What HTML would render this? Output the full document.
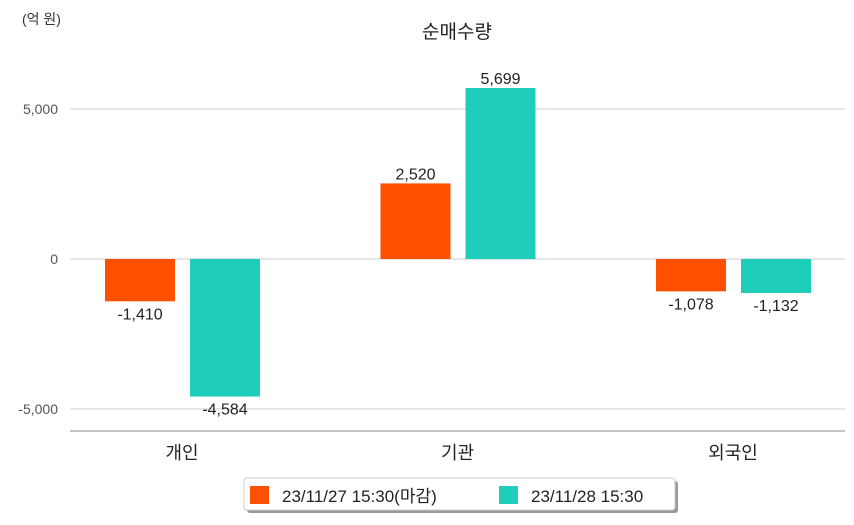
<!DOCTYPE html>
<html><head><meta charset="utf-8"><style>
body{margin:0;background:#fff;font-family:"Liberation Sans","Noto Sans CJK KR",sans-serif;}
svg text{font-family:"Liberation Sans","Noto Sans CJK KR",sans-serif;}
</style></head><body>
<svg id="c" width="854" height="520" xmlns="http://www.w3.org/2000/svg">
<text x="22" y="24" font-size="14" fill="#333">(억 원)</text>
<text x="457" y="38" font-size="19" text-anchor="middle" fill="#222">순매수량</text>
<g id="grid"></g><g id="bars"></g>
<line x1="70" y1="431" x2="845" y2="431" stroke="#888"/>
<g>
<rect x="247" y="481" width="431" height="32" fill="#999" rx="3"/>
<rect x="244" y="478" width="431" height="32" fill="#fff" stroke="#ccc" rx="3"/>
<rect x="250" y="486" width="19" height="18" fill="#ff5000"/>
<text x="282" y="502" font-size="17" fill="#222">23/11/27 15:30(마감)</text>
<rect x="499" y="486" width="19" height="18" fill="#1ecdba"/>
<text x="531" y="502" font-size="17" fill="#222">23/11/28 15:30</text>
</g>
</svg>
<script>
const categories=["개인","기관","외국인"];
const series1=[-1410,2520,-1078];
const series2=[-4584,5699,-1132];
const ticks=[5000,0,-5000];
const tickLabels=["5,000","0","-5,000"];
const ns="http://www.w3.org/2000/svg";
const y=v=>259-v*0.03;
const cx=i=>182+i*275.5;
const g=document.getElementById('grid'),b=document.getElementById('bars');
function mk(t,a,p){const e=document.createElementNS(ns,t);for(const k in a)e.setAttribute(k,a[k]);p.appendChild(e);return e;}
ticks.forEach((t,i)=>{
 const l=mk('line',{x1:70,x2:845,y1:y(t),y2:y(t),stroke:'#ccc'},g);
 
 
 const tx=mk('text',{x:58,y:y(t)+5,'font-size':14,'text-anchor':'end',fill:'#555'},g);tx.textContent=tickLabels[i];
 
 
});
const fmt=v=>v.toLocaleString('en-US');
categories.forEach((c,i)=>{
 [[series1,'#ff5000',-77],[series2,'#1ecdba',8]].forEach(([s,col,off],j)=>{
  const v=s[i],x=cx(i)+off,top=Math.min(y(v),y(0)),h=Math.abs(y(v)-y(0));
  const r=mk('rect',{x:x,y:top,width:70,height:h,fill:col},b);
  
  
  const t=mk('text',{x:x+35,y:v>=0?top-4:top+h+18,'font-size':16,'text-anchor':'middle',fill:'#222'},b);t.textContent=fmt(v);
  
  
 });
 const t=mk('text',{x:cx(i),y:459,'font-size':18,'text-anchor':'middle',fill:'#222'},b);t.textContent=c;
 
 
});
</script>
</body></html>
